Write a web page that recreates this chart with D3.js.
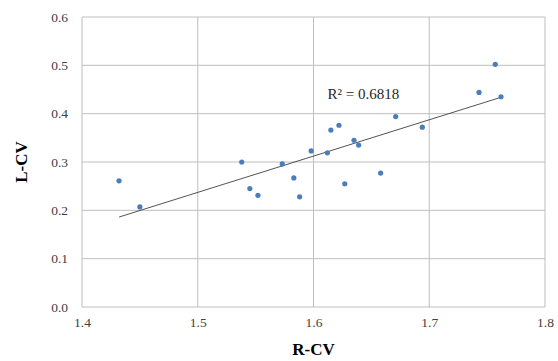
<!DOCTYPE html>
<html>
<head>
<meta charset="utf-8">
<script src="https://cdn.jsdelivr.net/npm/d3@7"></script>
<style>
  body { margin: 0; background: #fff; }
  svg, svg text { font-family: "Liberation Serif", "Times New Roman", serif; }
</style>
</head>
<body>
<svg width="558" height="361"></svg>
<script>
// data
var rcv = [1.432, 1.450, 1.538, 1.545, 1.552, 1.573, 1.583, 1.588, 1.598, 1.612, 1.615,
           1.622, 1.627, 1.635, 1.639, 1.658, 1.671, 1.694, 1.743, 1.757, 1.762];
var lcv = [0.261, 0.207, 0.300, 0.245, 0.231, 0.296, 0.267, 0.228, 0.323, 0.319, 0.366,
           0.376, 0.255, 0.345, 0.335, 0.277, 0.394, 0.372, 0.444, 0.502, 0.435];
var xTicks = [1.4, 1.5, 1.6, 1.7, 1.8];
var yTicks = [0.0, 0.1, 0.2, 0.3, 0.4, 0.5, 0.6];
var r2Label = "R\u00b2 = 0.6818";

var svg = d3.select("svg");

var margin = { top: 17, right: 13, bottom: 54, left: 82 };
var width = 558 - margin.left - margin.right;
var height = 361 - margin.top - margin.bottom;

var x = d3.scaleLinear().domain([1.4, 1.8]).range([margin.left, margin.left + width]);
var y = d3.scaleLinear().domain([0, 0.6]).range([margin.top + height, margin.top]);

// grid
svg.append("g")
  .selectAll("line.hg")
  .data(yTicks)
  .enter()
  .append("line")
  .attr("x1", x(1.4)).attr("x2", x(1.8))
  .attr("y1", function(d) { return y(d); })
  .attr("y2", function(d) { return y(d); })
  .attr("stroke", "#bfbfbf").attr("stroke-width", 1);

svg.append("g")
  .selectAll("line.vg")
  .data(xTicks)
  .enter()
  .append("line")
  .attr("y1", y(0)).attr("y2", y(0.6))
  .attr("x1", function(d) { return x(d); })
  .attr("x2", function(d) { return x(d); })
  .attr("stroke", "#bfbfbf").attr("stroke-width", 1);

// axes (labels only, lines come from grid)
var xAxis = d3.axisBottom(x).tickValues(xTicks).tickFormat(d3.format(".1f")).tickSize(0).tickPadding(10);
var yAxis = d3.axisLeft(y).tickValues(yTicks).tickFormat(d3.format(".1f")).tickSize(0).tickPadding(14);

var gx = svg.append("g")
  .attr("transform", "translate(0," + y(0) + ")")
  .call(xAxis);
var gy = svg.append("g")
  .attr("transform", "translate(" + x(1.4) + ",0)")
  .call(yAxis);

[gx, gy].forEach(function(g) {
  g.attr("font-family", null);
  g.select(".domain").remove();
  g.selectAll("text")
    .style("font-family", "'Liberation Serif', serif")
    .style("font-size", "13.5px")
    .attr("fill", "#404040");
});

// trend line, least squares from the points
var pts = rcv.map(function(v, i) { return [v, lcv[i]]; });
var mx = d3.mean(rcv), my = d3.mean(lcv);
var slope = d3.sum(pts, function(p) { return (p[0] - mx) * (p[1] - my); }) /
            d3.sum(pts, function(p) { return (p[0] - mx) * (p[0] - mx); });
var icpt = my - slope * mx;
var ext = d3.extent(rcv);

svg.append("line")
  .attr("x1", x(ext[0])).attr("y1", y(icpt + slope * ext[0]))
  .attr("x2", x(ext[1])).attr("y2", y(icpt + slope * ext[1]))
  .attr("stroke", "#404040").attr("stroke-width", 0.9);

// points
svg.selectAll("circle.pt")
  .data(pts)
  .enter()
  .append("circle")
  .attr("class", "pt")
  .attr("cx", function(d) { return x(d[0]); })
  .attr("cy", function(d) { return y(d[1]); })
  .attr("r", 2.6)
  .attr("fill", "#4a7ebb");

svg.append("text")
  .attr("x", x(1.6) + 14)
  .attr("y", y(0.43))
  .attr("font-size", "15px")
  .attr("fill", "#262626")
  .text(r2Label);

// axis titles
svg.append("text")
  .attr("x", x(1.6))
  .attr("y", 355)
  .attr("text-anchor", "middle")
  .attr("font-size", "17px")
  .attr("font-weight", "bold")
  .text("R-CV");

svg.append("text")
  .attr("transform", "translate(27," + y(0.3) + ") rotate(-90)")
  .attr("text-anchor", "middle")
  .attr("font-size", "17px")
  .attr("font-weight", "bold")
  .text("L-CV");
</script>
</body>
</html>
